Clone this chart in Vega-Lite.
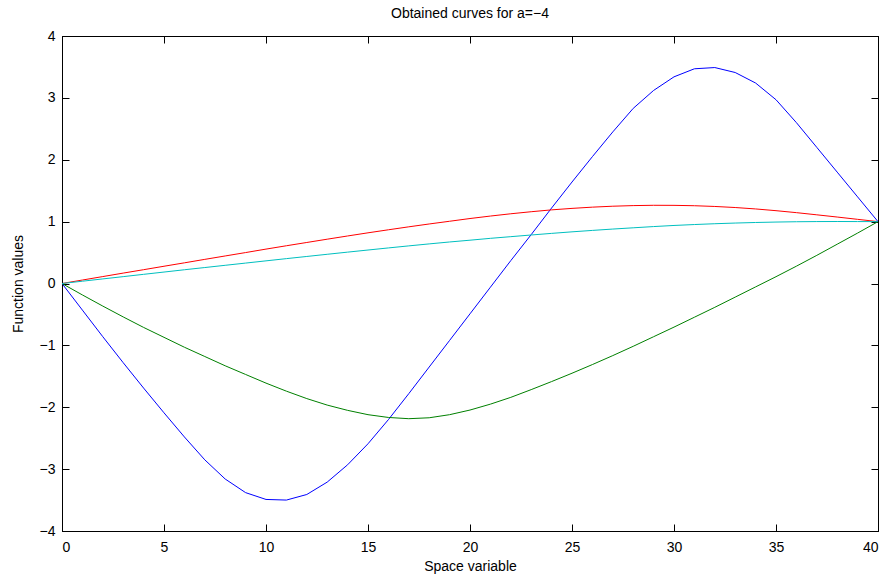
{
  "$schema": "https://vega.github.io/schema/vega-lite/v6.json",
  "autosize": {"type": "none"},
  "width": 816,
  "height": 495,
  "padding": {"left": 62, "top": 36, "right": 9, "bottom": 46},
  "background": "white",
  "title": {"text": "Obtained curves for a=−4", "fontSize": 14, "font": "Liberation Sans", "fontWeight": "normal", "color": "#000", "offset": 8},
  "config": {
    "view": {"stroke": "#000", "strokeWidth": 1},
    "axis": {"domainColor": "#000", "tickColor": "#000", "labelColor": "#000", "titleColor": "#000", "labelFont": "Liberation Sans", "titleFont": "Liberation Sans", "labelFontSize": 14, "titleFontSize": 14, "titleFontWeight": "normal", "grid": false, "tickSize": -7}
  },
  "data": {
    "values": [
      {"x": 0, "b": 0, "g": 0, "r": 0, "c": 0},
      {"x": 1, "b": -0.43, "g": -0.185, "r": 0.056, "c": 0.037},
      {"x": 2, "b": -0.86, "g": -0.365, "r": 0.112, "c": 0.074},
      {"x": 3, "b": -1.28, "g": -0.54, "r": 0.168, "c": 0.111},
      {"x": 4, "b": -1.69, "g": -0.71, "r": 0.223, "c": 0.148},
      {"x": 5, "b": -2.09, "g": -0.87, "r": 0.279, "c": 0.185},
      {"x": 6, "b": -2.48, "g": -1.03, "r": 0.334, "c": 0.222},
      {"x": 7, "b": -2.85, "g": -1.18, "r": 0.39, "c": 0.258},
      {"x": 8, "b": -3.16, "g": -1.33, "r": 0.445, "c": 0.294},
      {"x": 9, "b": -3.38, "g": -1.47, "r": 0.5, "c": 0.33},
      {"x": 10, "b": -3.49, "g": -1.61, "r": 0.556, "c": 0.366},
      {"x": 11, "b": -3.5, "g": -1.74, "r": 0.61, "c": 0.402},
      {"x": 12, "b": -3.41, "g": -1.86, "r": 0.663, "c": 0.437},
      {"x": 13, "b": -3.21, "g": -1.965, "r": 0.716, "c": 0.472},
      {"x": 14, "b": -2.93, "g": -2.05, "r": 0.768, "c": 0.507},
      {"x": 15, "b": -2.59, "g": -2.12, "r": 0.819, "c": 0.541},
      {"x": 16, "b": -2.2, "g": -2.165, "r": 0.868, "c": 0.575},
      {"x": 17, "b": -1.78, "g": -2.185, "r": 0.916, "c": 0.608},
      {"x": 18, "b": -1.35, "g": -2.17, "r": 0.962, "c": 0.64},
      {"x": 19, "b": -0.92, "g": -2.12, "r": 1.006, "c": 0.671},
      {"x": 20, "b": -0.49, "g": -2.045, "r": 1.05, "c": 0.7},
      {"x": 21, "b": -0.06, "g": -1.95, "r": 1.09, "c": 0.73},
      {"x": 22, "b": 0.37, "g": -1.84, "r": 1.127, "c": 0.757},
      {"x": 23, "b": 0.79, "g": -1.715, "r": 1.16, "c": 0.784},
      {"x": 24, "b": 1.22, "g": -1.585, "r": 1.19, "c": 0.81},
      {"x": 25, "b": 1.64, "g": -1.45, "r": 1.214, "c": 0.835},
      {"x": 26, "b": 2.05, "g": -1.31, "r": 1.234, "c": 0.858},
      {"x": 27, "b": 2.45, "g": -1.165, "r": 1.249, "c": 0.88},
      {"x": 28, "b": 2.83, "g": -1.015, "r": 1.259, "c": 0.9},
      {"x": 29, "b": 3.12, "g": -0.86, "r": 1.264, "c": 0.92},
      {"x": 30, "b": 3.34, "g": -0.705, "r": 1.263, "c": 0.938},
      {"x": 31, "b": 3.47, "g": -0.545, "r": 1.257, "c": 0.953},
      {"x": 32, "b": 3.49, "g": -0.385, "r": 1.245, "c": 0.966},
      {"x": 33, "b": 3.41, "g": -0.22, "r": 1.228, "c": 0.977},
      {"x": 34, "b": 3.24, "g": -0.055, "r": 1.205, "c": 0.986},
      {"x": 35, "b": 2.97, "g": 0.11, "r": 1.177, "c": 0.993},
      {"x": 36, "b": 2.6, "g": 0.28, "r": 1.145, "c": 0.998},
      {"x": 37, "b": 2.2, "g": 0.455, "r": 1.11, "c": 1.001},
      {"x": 38, "b": 1.8, "g": 0.635, "r": 1.074, "c": 1.002},
      {"x": 39, "b": 1.4, "g": 0.815, "r": 1.037, "c": 1.001},
      {"x": 40, "b": 1.0, "g": 1.0, "r": 1.0, "c": 1.0}
    ]
  },
  "transform": [{"fold": ["b", "g", "r", "c"], "as": ["curve", "value"]}],
  "layer": [
    {
      "mark": {"type": "line", "strokeWidth": 1, "clip": true},
      "encoding": {
        "x": {"field": "x", "type": "quantitative", "scale": {"domain": [0, 40], "nice": false, "zero": false}, "axis": {"title": "Space variable", "values": [0, 5, 10, 15, 20, 25, 30, 35, 40], "labelPadding": 16, "titlePadding": 5}},
        "y": {"field": "value", "type": "quantitative", "scale": {"domain": [-4, 4], "nice": false, "zero": false}, "axis": {"title": "Function values", "values": [-4, -3, -2, -1, 0, 1, 2, 3, 4], "labelPadding": 14, "titlePadding": 14}},
        "color": {"field": "curve", "type": "nominal", "scale": {"domain": ["b", "g", "r", "c"], "range": ["#0000ff", "#008000", "#ff0000", "#00bfbf"]}, "legend": null},
        "order": {"field": "x", "type": "quantitative"}
      }
    },
    {
      "mark": {"type": "line", "strokeOpacity": 0},
      "encoding": {
        "x": {"field": "x", "type": "quantitative", "axis": {"orient": "top", "labels": false, "title": null, "values": [0, 5, 10, 15, 20, 25, 30, 35, 40]}},
        "y": {"field": "value", "type": "quantitative", "axis": {"orient": "right", "labels": false, "title": null, "values": [-4, -3, -2, -1, 0, 1, 2, 3, 4]}},
        "detail": {"field": "curve", "type": "nominal"}
      }
    }
  ],
  "resolve": {"axis": {"x": "independent", "y": "independent"}}
}
